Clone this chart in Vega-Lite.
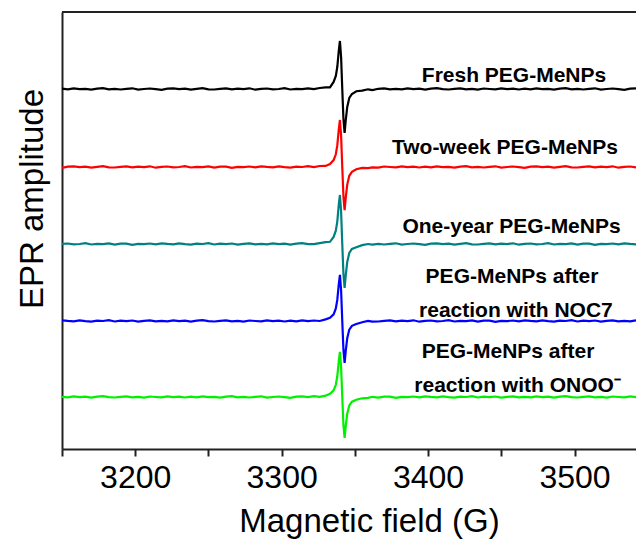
{
  "$schema": "https://vega.github.io/schema/vega-lite/v6.json",
  "width": 574,
  "height": 437,
  "autosize": {"type": "none"},
  "padding": {"left": 62, "top": 12, "right": 0, "bottom": 90},
  "background": "white",
  "config": {"view": {"stroke": null}, "font": "Liberation Sans"},
  "datasets": {
    "spectra": [
      {"field": 3150, "fresh": 360.3, "two_week": 281.2, "one_year": 205.2, "noc7": 128.7, "onoo": 52.1},
      {"field": 3154, "fresh": 359.6, "two_week": 282.3, "one_year": 205.5, "noc7": 128.1, "onoo": 51.6},
      {"field": 3158, "fresh": 360.6, "two_week": 282.6, "one_year": 204.7, "noc7": 127.7, "onoo": 52.7},
      {"field": 3162, "fresh": 359.8, "two_week": 281.9, "one_year": 205.0, "noc7": 128.6, "onoo": 51.8},
      {"field": 3166, "fresh": 360.1, "two_week": 282.4, "one_year": 205.8, "noc7": 127.8, "onoo": 52.4},
      {"field": 3170, "fresh": 359.3, "two_week": 281.4, "one_year": 204.5, "noc7": 127.4, "onoo": 51.4},
      {"field": 3174, "fresh": 360.4, "two_week": 282.2, "one_year": 205.1, "noc7": 128.4, "onoo": 52.3},
      {"field": 3178, "fresh": 360.8, "two_week": 282.9, "one_year": 204.8, "noc7": 128.0, "onoo": 52.9},
      {"field": 3182, "fresh": 359.7, "two_week": 281.7, "one_year": 205.6, "noc7": 128.8, "onoo": 51.9},
      {"field": 3186, "fresh": 360.2, "two_week": 281.5, "one_year": 204.4, "noc7": 127.5, "onoo": 51.5},
      {"field": 3190, "fresh": 359.5, "two_week": 282.1, "one_year": 205.3, "noc7": 128.3, "onoo": 52.2},
      {"field": 3194, "fresh": 360.1, "two_week": 282.6, "one_year": 205.4, "noc7": 127.9, "onoo": 52.6},
      {"field": 3198, "fresh": 360.7, "two_week": 281.6, "one_year": 204.2, "noc7": 128.5, "onoo": 51.7},
      {"field": 3202, "fresh": 359.4, "two_week": 282.3, "one_year": 205.2, "noc7": 127.3, "onoo": 52.1},
      {"field": 3206, "fresh": 360.0, "two_week": 281.9, "one_year": 204.9, "noc7": 128.2, "onoo": 51.3},
      {"field": 3210, "fresh": 360.5, "two_week": 282.7, "one_year": 205.5, "noc7": 128.6, "onoo": 52.5},
      {"field": 3214, "fresh": 359.8, "two_week": 281.3, "one_year": 204.6, "noc7": 127.7, "onoo": 52.0},
      {"field": 3218, "fresh": 359.2, "two_week": 282.2, "one_year": 205.7, "noc7": 128.1, "onoo": 51.6},
      {"field": 3222, "fresh": 360.3, "two_week": 282.5, "one_year": 205.1, "noc7": 127.6, "onoo": 52.6},
      {"field": 3226, "fresh": 360.6, "two_week": 281.7, "one_year": 204.7, "noc7": 128.7, "onoo": 51.8},
      {"field": 3230, "fresh": 359.9, "two_week": 282.0, "one_year": 205.6, "noc7": 127.8, "onoo": 52.3},
      {"field": 3234, "fresh": 360.4, "two_week": 282.8, "one_year": 204.8, "noc7": 128.4, "onoo": 51.5},
      {"field": 3238, "fresh": 359.4, "two_week": 281.5, "one_year": 204.4, "noc7": 127.4, "onoo": 52.3},
      {"field": 3242, "fresh": 360.2, "two_week": 282.1, "one_year": 205.4, "noc7": 128.3, "onoo": 51.6},
      {"field": 3246, "fresh": 360.9, "two_week": 281.8, "one_year": 205.0, "noc7": 128.9, "onoo": 52.6},
      {"field": 3250, "fresh": 359.7, "two_week": 282.6, "one_year": 205.8, "noc7": 127.9, "onoo": 51.8},
      {"field": 3254, "fresh": 359.5, "two_week": 281.4, "one_year": 204.5, "noc7": 127.5, "onoo": 52.1},
      {"field": 3258, "fresh": 360.1, "two_week": 282.3, "one_year": 205.3, "noc7": 128.2, "onoo": 51.3},
      {"field": 3262, "fresh": 360.6, "two_week": 282.4, "one_year": 204.9, "noc7": 128.6, "onoo": 52.4},
      {"field": 3266, "fresh": 359.6, "two_week": 281.2, "one_year": 205.5, "noc7": 127.7, "onoo": 52.8},
      {"field": 3270, "fresh": 360.3, "two_week": 282.2, "one_year": 204.3, "noc7": 128.1, "onoo": 51.7},
      {"field": 3274, "fresh": 359.9, "two_week": 281.9, "one_year": 205.2, "noc7": 127.3, "onoo": 52.2},
      {"field": 3278, "fresh": 360.7, "two_week": 282.5, "one_year": 205.6, "noc7": 128.5, "onoo": 51.5},
      {"field": 3282, "fresh": 359.3, "two_week": 281.6, "one_year": 204.7, "noc7": 128.0, "onoo": 52.1},
      {"field": 3286, "fresh": 360.2, "two_week": 282.7, "one_year": 205.1, "noc7": 127.6, "onoo": 52.7},
      {"field": 3290, "fresh": 360.5, "two_week": 282.1, "one_year": 204.6, "noc7": 128.6, "onoo": 51.4},
      {"field": 3294, "fresh": 359.7, "two_week": 281.7, "one_year": 205.7, "noc7": 127.8, "onoo": 52.0},
      {"field": 3298, "fresh": 360.0, "two_week": 282.6, "one_year": 204.8, "noc7": 128.3, "onoo": 52.5},
      {"field": 3302, "fresh": 360.8, "two_week": 281.8, "one_year": 205.4, "noc7": 127.5, "onoo": 51.8},
      {"field": 3306, "fresh": 359.5, "two_week": 281.4, "one_year": 204.4, "noc7": 128.3, "onoo": 51.2},
      {"field": 3310, "fresh": 360.1, "two_week": 282.4, "one_year": 205.3, "noc7": 127.6, "onoo": 52.3},
      {"field": 3314, "fresh": 359.8, "two_week": 282.0, "one_year": 205.9, "noc7": 128.6, "onoo": 52.6},
      {"field": 3318, "fresh": 360.6, "two_week": 282.8, "one_year": 204.9, "noc7": 127.8, "onoo": 51.9},
      {"field": 3322, "fresh": 359.8, "two_week": 281.9, "one_year": 204.9, "noc7": 128.5, "onoo": 52.8},
      {"field": 3326, "fresh": 361.0, "two_week": 283.0, "one_year": 205.9, "noc7": 128.0, "onoo": 52.1},
      {"field": 3330, "fresh": 361.6, "two_week": 283.1, "one_year": 206.8, "noc7": 129.6, "onoo": 53.3},
      {"field": 3333, "fresh": 361.7, "two_week": 284.9, "one_year": 207.2, "noc7": 131.2, "onoo": 55.3},
      {"field": 3335.5, "fresh": 367.0, "two_week": 288.9, "one_year": 212.1, "noc7": 134.7, "onoo": 58.6},
      {"field": 3337, "fresh": 373.0, "two_week": 294.7, "one_year": 218.3, "noc7": 140.5, "onoo": 64.2},
      {"field": 3338, "fresh": 382.0, "two_week": 303.6, "one_year": 227.4, "noc7": 149.1, "onoo": 72.7},
      {"field": 3339, "fresh": 398.0, "two_week": 319.2, "one_year": 243.8, "noc7": 164.5, "onoo": 87.7},
      {"field": 3339.8, "fresh": 408.0, "two_week": 329.0, "one_year": 254.0, "noc7": 174.1, "onoo": 97.1},
      {"field": 3340.6, "fresh": 392.0, "two_week": 313.4, "one_year": 237.6, "noc7": 158.7, "onoo": 82.1},
      {"field": 3341.4, "fresh": 360.0, "two_week": 282.0, "one_year": 205.0, "noc7": 128.0, "onoo": 52.0},
      {"field": 3342.2, "fresh": 330.0, "two_week": 252.6, "one_year": 175.0, "noc7": 99.3, "onoo": 24.1},
      {"field": 3343.0, "fresh": 316.0, "two_week": 238.9, "one_year": 161.0, "noc7": 86.0, "onoo": 11.1},
      {"field": 3343.8, "fresh": 329.0, "two_week": 251.6, "one_year": 174.0, "noc7": 98.4, "onoo": 23.2},
      {"field": 3344.8, "fresh": 342.0, "two_week": 264.4, "one_year": 187.0, "noc7": 110.8, "onoo": 35.3},
      {"field": 3346.2, "fresh": 351.0, "two_week": 273.2, "one_year": 196.0, "noc7": 119.4, "onoo": 43.6},
      {"field": 3348, "fresh": 355.0, "two_week": 277.1, "one_year": 200.0, "noc7": 123.2, "onoo": 47.3},
      {"field": 3351, "fresh": 357.8, "two_week": 279.7, "one_year": 201.8, "noc7": 125.0, "onoo": 49.2},
      {"field": 3355, "fresh": 358.4, "two_week": 281.1, "one_year": 203.9, "noc7": 126.8, "onoo": 50.7},
      {"field": 3359, "fresh": 359.7, "two_week": 280.9, "one_year": 205.0, "noc7": 128.1, "onoo": 51.1},
      {"field": 3362, "fresh": 358.9, "two_week": 281.7, "one_year": 204.3, "noc7": 127.3, "onoo": 52.2},
      {"field": 3366, "fresh": 360.2, "two_week": 281.3, "one_year": 205.2, "noc7": 127.5, "onoo": 51.4},
      {"field": 3370, "fresh": 360.6, "two_week": 282.5, "one_year": 204.5, "noc7": 128.1, "onoo": 52.3},
      {"field": 3374, "fresh": 359.7, "two_week": 282.0, "one_year": 205.1, "noc7": 128.6, "onoo": 52.4},
      {"field": 3378, "fresh": 360.1, "two_week": 281.6, "one_year": 205.7, "noc7": 127.6, "onoo": 51.2},
      {"field": 3382, "fresh": 359.6, "two_week": 282.6, "one_year": 204.4, "noc7": 128.3, "onoo": 52.2},
      {"field": 3386, "fresh": 360.7, "two_week": 281.8, "one_year": 205.0, "noc7": 127.9, "onoo": 51.9},
      {"field": 3390, "fresh": 359.8, "two_week": 282.3, "one_year": 205.5, "noc7": 128.7, "onoo": 52.5},
      {"field": 3394, "fresh": 360.4, "two_week": 281.5, "one_year": 204.8, "noc7": 127.3, "onoo": 51.6},
      {"field": 3398, "fresh": 359.4, "two_week": 282.3, "one_year": 204.2, "noc7": 128.2, "onoo": 52.7},
      {"field": 3402, "fresh": 360.3, "two_week": 281.6, "one_year": 205.3, "noc7": 128.5, "onoo": 52.1},
      {"field": 3406, "fresh": 360.9, "two_week": 282.6, "one_year": 205.6, "noc7": 127.7, "onoo": 51.7},
      {"field": 3410, "fresh": 359.9, "two_week": 281.8, "one_year": 204.9, "noc7": 128.0, "onoo": 52.6},
      {"field": 3414, "fresh": 359.5, "two_week": 282.1, "one_year": 205.4, "noc7": 128.8, "onoo": 51.8},
      {"field": 3418, "fresh": 360.2, "two_week": 281.3, "one_year": 204.4, "noc7": 127.5, "onoo": 51.4},
      {"field": 3422, "fresh": 360.6, "two_week": 282.4, "one_year": 205.2, "noc7": 128.1, "onoo": 52.4},
      {"field": 3426, "fresh": 359.7, "two_week": 282.8, "one_year": 205.9, "noc7": 127.8, "onoo": 52.0},
      {"field": 3430, "fresh": 360.1, "two_week": 281.7, "one_year": 204.7, "noc7": 128.6, "onoo": 52.8},
      {"field": 3434, "fresh": 359.3, "two_week": 282.2, "one_year": 204.5, "noc7": 127.4, "onoo": 51.5},
      {"field": 3438, "fresh": 360.5, "two_week": 281.5, "one_year": 205.1, "noc7": 128.3, "onoo": 52.3},
      {"field": 3442, "fresh": 360.0, "two_week": 282.1, "one_year": 205.6, "noc7": 128.4, "onoo": 51.9},
      {"field": 3446, "fresh": 359.6, "two_week": 282.7, "one_year": 204.6, "noc7": 127.2, "onoo": 52.5},
      {"field": 3450, "fresh": 360.6, "two_week": 281.4, "one_year": 205.3, "noc7": 128.2, "onoo": 51.3},
      {"field": 3454, "fresh": 359.8, "two_week": 282.0, "one_year": 204.9, "noc7": 127.9, "onoo": 52.2},
      {"field": 3458, "fresh": 360.3, "two_week": 282.5, "one_year": 205.7, "noc7": 128.5, "onoo": 52.6},
      {"field": 3462, "fresh": 359.5, "two_week": 281.8, "one_year": 204.3, "noc7": 127.6, "onoo": 51.7},
      {"field": 3466, "fresh": 360.3, "two_week": 281.2, "one_year": 205.2, "noc7": 128.7, "onoo": 52.1},
      {"field": 3470, "fresh": 359.6, "two_week": 282.3, "one_year": 205.5, "noc7": 128.1, "onoo": 51.6},
      {"field": 3474, "fresh": 360.6, "two_week": 282.6, "one_year": 204.7, "noc7": 127.7, "onoo": 52.7},
      {"field": 3478, "fresh": 359.8, "two_week": 281.9, "one_year": 205.0, "noc7": 128.6, "onoo": 51.8},
      {"field": 3482, "fresh": 360.1, "two_week": 282.4, "one_year": 205.8, "noc7": 127.8, "onoo": 52.4},
      {"field": 3486, "fresh": 359.3, "two_week": 281.4, "one_year": 204.5, "noc7": 127.4, "onoo": 51.4},
      {"field": 3490, "fresh": 360.4, "two_week": 282.2, "one_year": 205.1, "noc7": 128.4, "onoo": 52.3},
      {"field": 3494, "fresh": 360.8, "two_week": 282.9, "one_year": 204.8, "noc7": 128.0, "onoo": 52.9},
      {"field": 3498, "fresh": 359.7, "two_week": 281.7, "one_year": 205.6, "noc7": 128.8, "onoo": 51.9},
      {"field": 3502, "fresh": 360.2, "two_week": 281.5, "one_year": 204.4, "noc7": 127.5, "onoo": 51.5},
      {"field": 3506, "fresh": 359.5, "two_week": 282.1, "one_year": 205.3, "noc7": 128.3, "onoo": 52.2},
      {"field": 3510, "fresh": 360.1, "two_week": 282.6, "one_year": 205.4, "noc7": 127.9, "onoo": 52.6},
      {"field": 3514, "fresh": 360.7, "two_week": 281.6, "one_year": 204.2, "noc7": 128.5, "onoo": 51.7},
      {"field": 3518, "fresh": 359.4, "two_week": 282.3, "one_year": 205.2, "noc7": 127.3, "onoo": 52.1},
      {"field": 3522, "fresh": 360.0, "two_week": 281.9, "one_year": 204.9, "noc7": 128.2, "onoo": 51.3},
      {"field": 3526, "fresh": 360.5, "two_week": 282.7, "one_year": 205.5, "noc7": 128.6, "onoo": 52.5},
      {"field": 3530, "fresh": 359.8, "two_week": 281.3, "one_year": 204.6, "noc7": 127.7, "onoo": 52.0},
      {"field": 3534, "fresh": 359.2, "two_week": 282.2, "one_year": 205.7, "noc7": 128.1, "onoo": 51.6},
      {"field": 3538, "fresh": 360.3, "two_week": 282.5, "one_year": 205.1, "noc7": 127.6, "onoo": 52.6},
      {"field": 3542, "fresh": 360.6, "two_week": 281.7, "one_year": 204.7, "noc7": 128.7, "onoo": 51.8}
    ],
    "labels": [
      {"field": 3458.7, "amplitude": 367.3, "text": "Fresh PEG-MeNPs"},
      {"field": 3452.5, "amplitude": 295.0, "text": "Two-week PEG-MeNPs"},
      {"field": 3457.0, "amplitude": 216.3, "text": "One-year PEG-MeNPs"},
      {"field": 3457.3, "amplitude": 166.0, "text": "PEG-MeNPs after"},
      {"field": 3460.0, "amplitude": 132.3, "text": "reaction with NOC7"},
      {"field": 3454.6, "amplitude": 91.0, "text": "PEG-MeNPs after"},
      {"field": 3461.1, "amplitude": 57.3, "text": "reaction with ONOO⁻"}
    ]
  },
  "layer": [
    {
      "data": {"name": "spectra"},
      "transform": [
        {"fold": ["fresh", "two_week", "one_year", "noc7", "onoo"], "as": ["sample", "amplitude"]}
      ],
      "mark": {"type": "line", "strokeWidth": 2.2, "clip": true},
      "encoding": {
        "x": {
          "field": "field",
          "type": "quantitative",
          "scale": {"domain": [3150, 3542], "nice": false, "zero": false},
          "axis": {
            "title": "Magnetic field (G)",
            "values": [3150, 3200, 3250, 3300, 3350, 3400, 3450, 3500],
            "format": "d",
            "labelExpr": "datum.value % 100 === 0 ? datum.label : ''",
            "grid": false,
            "domainColor": "#222222",
            "domainWidth": 2,
            "tickColor": "#222222",
            "tickWidth": 2,
            "tickSize": 7,
            "labelFont": "Liberation Sans",
            "labelFontSize": 32,
            "labelColor": "#000000",
            "labelPadding": 6,
            "labelFlush": false,
            "labelOverlap": false,
            "titleFont": "Liberation Sans",
            "titleFontSize": 33,
            "titleFontWeight": "normal",
            "titleColor": "#000000",
            "titleX": 307,
            "titleY": 82,
            "titleBaseline": "alphabetic"
          }
        },
        "y": {
          "field": "amplitude",
          "type": "quantitative",
          "scale": {"domain": [0, 437], "nice": false, "zero": false},
          "axis": {
            "title": "EPR amplitude",
            "labels": false,
            "ticks": false,
            "grid": false,
            "domainColor": "#222222",
            "domainWidth": 2,
            "titleFont": "Liberation Sans",
            "titleFontSize": 33,
            "titleFontWeight": "normal",
            "titleColor": "#000000",
            "titleAngle": 270,
            "titleX": -20,
            "titleY": 186.5,
            "titleBaseline": "alphabetic"
          }
        },
        "color": {
          "field": "sample",
          "type": "nominal",
          "scale": {
            "domain": ["fresh", "two_week", "one_year", "noc7", "onoo"],
            "range": ["#000000", "#ff0000", "#008080", "#0000ff", "#00f000"]
          },
          "legend": null
        }
      }
    },
    {
      "data": {"values": [{}]},
      "mark": {"type": "rule", "color": "#222222", "strokeWidth": 2},
      "encoding": {"y": {"datum": 437}}
    },
    {
      "data": {"name": "labels"},
      "mark": {
        "type": "text",
        "font": "Liberation Sans",
        "fontWeight": "bold",
        "fontSize": 21,
        "align": "center",
        "baseline": "alphabetic",
        "color": "#000000"
      },
      "encoding": {
        "x": {"field": "field", "type": "quantitative"},
        "y": {"field": "amplitude", "type": "quantitative"},
        "text": {"field": "text"}
      }
    }
  ]
}
